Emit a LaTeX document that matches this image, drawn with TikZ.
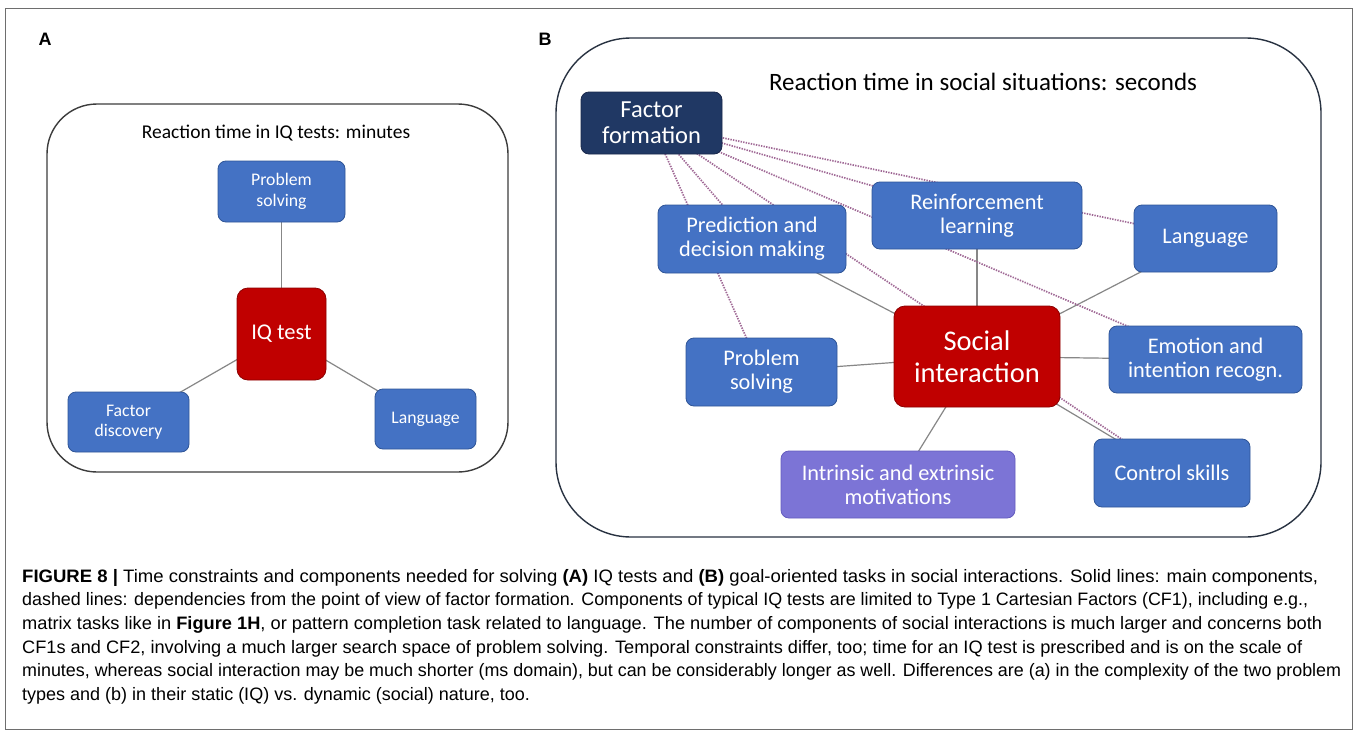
\documentclass[tikz,border=0pt]{standalone}
\usepackage{fontspec}
\usepackage{graphicx}
\setmainfont{Liberation Sans}
\newfontfamily\calfont{Carlito}
\usetikzlibrary{backgrounds}
\definecolor{boxblue}{RGB}{68,114,196}
\definecolor{boxblueedge}{RGB}{47,85,151}
\definecolor{boxred}{RGB}{192,0,0}
\definecolor{boxrededge}{RGB}{140,0,0}
\definecolor{boxnavy}{RGB}{32,56,100}
\definecolor{boxnavyedge}{RGB}{25,40,75}
\definecolor{boxpurple}{RGB}{124,116,214}
\definecolor{boxpurpleedge}{RGB}{100,92,190}
\definecolor{lineGray}{RGB}{135,135,135}
\definecolor{dotMauve}{RGB}{160,105,150}
\definecolor{frameGray}{RGB}{60,60,60}
\definecolor{frameNavy}{RGB}{40,50,65}
\definecolor{outerGray}{RGB}{110,110,110}
\newcommand\mycapline[2]{\resizebox{#1}{\height}{#2}}
\tikzset{
  box/.style={rounded corners=8pt, draw=boxblueedge, fill=boxblue, line width=0.8pt,
    text=white, align=center, inner sep=0pt},
  boxA/.style={box, font=\calfont\fontsize{17.7}{20.5}\selectfont},
  boxB/.style={box, font=\calfont\fontsize{22.3}{24}\selectfont},
  redbox/.style={box, fill=boxred, draw=boxrededge, rounded corners=11pt},
  navybox/.style={box, fill=boxnavy, draw=boxnavyedge, font=\calfont\fontsize{24.5}{26}\selectfont},
  purplebox/.style={boxB, fill=boxpurple, draw=boxpurpleedge},
  solidln/.style={draw=lineGray, line width=1.2pt},
  dotln/.style={draw=dotMauve, line width=1.7pt, dash pattern=on 1.4pt off 1.2pt},
  panelframe/.style={line width=1.4pt},
  captxt/.style={anchor=base west, inner sep=0pt, font=\fontsize{18}{21}\selectfont},
  paneltitle/.style={inner sep=0pt, text=black},
  panellabel/.style={inner sep=0pt, font=\bfseries\fontsize{18}{20}\selectfont}
}
\begin{document}
\begin{tikzpicture}[x=1pt,y=-1pt]
\useasboundingbox (0,0) rectangle (1358,736);
\begin{scope}[on background layer]
  \fill[white] (0,0) rectangle (1358,736);
\end{scope}
\draw[outerGray, line width=1pt] (5.5,8.5) rectangle (1352.5,729.5);

% panel labels
\node[panellabel] (labA) at (45,39) {A};
\node[panellabel] (labB) at (545,39) {B};

% Panel A
\draw[panelframe, draw=frameGray] (47,104) [rounded corners=50pt] rectangle (508,472);
\node[paneltitle, font=\calfont\fontsize{19.5}{22}\selectfont] (titA) at (276,133) {Reaction time in IQ tests: minutes};
\node[boxA, minimum width=127pt, minimum height=61pt] (psA) at (281.5,191.5) {Problem\\solving};
\node[redbox, font=\calfont\fontsize{22.5}{24}\selectfont, minimum width=89pt, minimum height=92pt] (iq) at (281.5,334) {IQ test};
\node[boxA, minimum width=121pt, minimum height=60pt] (fd) at (128.5,422) {Factor\\discovery};
\node[boxA, minimum width=101pt, minimum height=60pt] (laA) at (425.5,419) {Language};

% Panel B
\draw[panelframe, draw=frameNavy] (556,38) [rounded corners=75pt] rectangle (1321,537);
\node[paneltitle, font=\calfont\fontsize{25}{27}\selectfont] (titB) at (983,82) {Reaction time in social situations: seconds};
\node[navybox, minimum width=141pt, minimum height=62pt] (ff) at (651.5,123) {Factor\\formation};
\node[boxB, minimum width=188pt, minimum height=68pt] (pred) at (752,239) {Prediction and\\decision making};
\node[boxB, minimum width=210pt, minimum height=67pt] (reinf) at (977,215.5) {Reinforcement\\learning};
\node[boxB, minimum width=143pt, minimum height=67pt] (langB) at (1205.5,238.5) {Language};
\node[redbox, font=\calfont\fontsize{28.5}{31.5}\selectfont, minimum width=166pt, minimum height=101pt] (soc) at (977,356.5) {Social\\interaction};
\node[boxB, minimum width=151pt, minimum height=68pt] (psB) at (761.5,372) {Problem\\solving};
\node[boxB, minimum width=193pt, minimum height=67pt] (emo) at (1205.5,359.5) {Emotion and\\intention recogn.};
\node[boxB, minimum width=156pt, minimum height=68pt] (ctrl) at (1172,473) {Control skills};
\node[purplebox, minimum width=234pt, minimum height=67pt] (intr) at (898,484.5) {Intrinsic and extrinsic\\motivations};

% connectors (behind boxes)
\begin{scope}[on background layer]
  \draw[solidln] (psA.center) -- (iq.center);
  \draw[solidln] (iq.center) -- (fd.center);
  \draw[solidln] (iq.center) -- (laA.center);
  \draw[solidln] (soc.center) -- (pred.center);
  \draw[solidln] (soc.center) -- (reinf.center);
  \draw[solidln] (soc.center) -- (langB.center);
  \draw[solidln] (soc.center) -- (psB.center);
  \draw[solidln] (soc.center) -- (emo.center);
  \draw[solidln] (soc.center) -- (ctrl.center);
  \draw[solidln] (soc.center) -- (intr.center);
  \draw[dotln] (ff.center) -- (langB.center);
  \draw[dotln] (ff.center) -- (reinf.center);
  \draw[dotln] (ff.center) -- (emo.center);
  \draw[dotln] (ff.center) -- (ctrl.center);
  \draw[dotln] (ff.center) -- (pred.center);
  \draw[dotln] (ff.center) -- (psB.center);
\end{scope}

% caption
\node[captxt] (c1) at (22,582) {\mycapline{1296pt}{\textbf{FIGURE 8 |} Time constraints and components needed for solving \textbf{(A)} IQ tests and \textbf{(B)} goal-oriented tasks in social interactions. Solid lines: main components,}};
\node[captxt] (c2) at (22,605.5) {\mycapline{1286pt}{dashed lines: dependencies from the point of view of factor formation. Components of typical IQ tests are limited to Type 1 Cartesian Factors (CF1), including e.g.,}};
\node[captxt] (c3) at (22,629) {\mycapline{1300pt}{matrix tasks like in \textbf{Figure 1H}, or pattern completion task related to language. The number of components of social interactions is much larger and concerns both}};
\node[captxt] (c4) at (22,653) {\mycapline{1280pt}{CF1s and CF2, involving a much larger search space of problem solving. Temporal constraints differ, too; time for an IQ test is prescribed and is on the scale of}};
\node[captxt] (c5) at (22,676.5) {\mycapline{1319pt}{minutes, whereas social interaction may be much shorter (ms domain), but can be considerably longer as well. Differences are (a) in the complexity of the two problem}};
\node[captxt] (c6) at (22,700) {types and (b) in their static (IQ) vs. dynamic (social) nature, too.};
\end{tikzpicture}
\end{document}
